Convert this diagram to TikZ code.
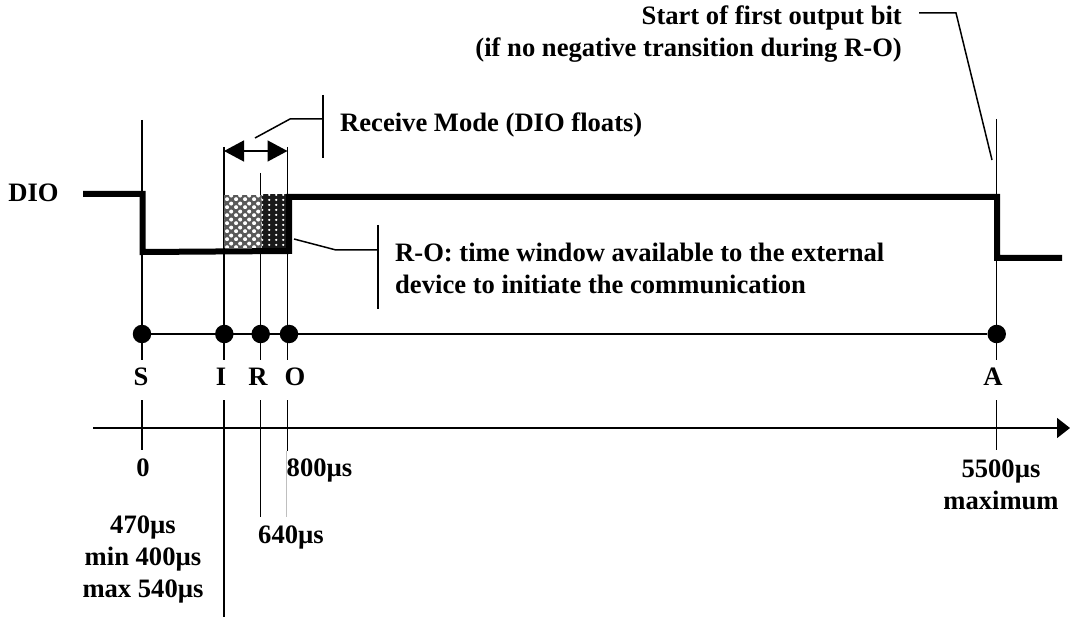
\documentclass[tikz,border=0pt]{standalone}
\usepackage{fontspec}
\setmainfont{Liberation Serif}
\usepackage{tikz}
\usetikzlibrary{arrows.meta, patterns, calc}
\pgfdeclarepatternformonly{coarse blobs}{\pgfqpoint{0pt}{0pt}}{\pgfqpoint{9pt}{8pt}}{\pgfqpoint{9pt}{8pt}}{
    \pgfpathcircle{\pgfqpoint{2.25pt}{2pt}}{2.2pt}
    \pgfpathcircle{\pgfqpoint{6.75pt}{6pt}}{2.2pt}
    \pgfusepath{fill}
}
\pgfdeclarepatternformonly{fine blobs}{\pgfqpoint{0pt}{0pt}}{\pgfqpoint{7pt}{5pt}}{\pgfqpoint{7pt}{5pt}}{
    \pgfpathcircle{\pgfqpoint{3.5pt}{2.5pt}}{1.4pt}
    \pgfusepath{fill}
}
\tikzset{
    lbl/.style={inner sep=0pt, font=\fontsize{26.6}{32}\selectfont\bfseries, align=center},
    lbll/.style={lbl, align=left, anchor=west},
    dot/.style={circle, fill=black, inner sep=0pt, minimum size=18.5pt},
    thin line/.style={line width=1.5pt},
    signal/.style={line width=6pt, line cap=butt, line join=miter},
}

\begin{document}
\begin{tikzpicture}[x=1pt, y=-1pt]
    \useasboundingbox (0,0) rectangle (1070,617);
    % vertical marks
    \coordinate (Stop) at (142,120);
    \coordinate (Itop) at (224,147);
    \coordinate (Rtop) at (260.5,173);
    \coordinate (Otop) at (287.5,147);
    \coordinate (Atop) at (996.5,119);
    \node[dot] (S) at (142,334) {};
    \node[dot] (I) at (224.3,334) {};
    \node[dot] (R) at (260.7,334) {};
    \node[dot] (O) at (289,334) {};
    \node[dot] (A) at (996.7,334) {};
    \draw[thin line] (S) -- (A);
    \coordinate (Sa) at (142,360);
    \coordinate (Ia) at (224,360);
    \coordinate (Ra) at (260.5,360);
    \coordinate (Oa) at (287.5,360);
    \coordinate (Aa) at (996.5,360);
    \foreach \p in {S,I,R,O,A} \draw[thin line] (\p top) -- (\p a);
    % window shading
    \fill[black!65] (224,195) rectangle (261.5,248);
    \fill[pattern=coarse blobs, pattern color=white] (224,195) rectangle (261.5,248);
    \fill[black!90] (261.5,194) rectangle (286,248);
    \fill[pattern=fine blobs, pattern color=white] (261.5,195) rectangle (285,247);
    % time axis
    \coordinate (T0) at (93,428);
    \coordinate (T1) at (1070,428);
    \draw[thin line, -{Triangle[length=13pt,width=20pt]}] (T0) -- (T1);
    \coordinate (Sb) at (142,400);
    \coordinate (Ib) at (224,400);
    \coordinate (Rb) at (260.5,400);
    \coordinate (Ob) at (287.5,400);
    \coordinate (Ab) at (996.5,400);
    \coordinate (Sc) at (142,450);
    \coordinate (Ic) at (224,617);
    \coordinate (Rc) at (260.5,517);
    \coordinate (Oc) at (287.5,451);
    \coordinate (Ac) at (996.5,450);
    \foreach \p in {S,I,R,O,A} \draw[thin line] (\p b) -- (\p c);
    \coordinate (Oe) at (286.7,451);
    \coordinate (Od) at (286.7,517);
    \draw[black!25, line width=0.8pt] (Oe) -- (Od);
    % DIO signal
    \coordinate (D0) at (83,194);
    \coordinate (D1) at (142.7,194);
    \coordinate (D2) at (142.7,252);
    \coordinate (D3) at (289,251);
    \coordinate (D4) at (289,197);
    \coordinate (D5) at (997,197);
    \coordinate (D6) at (997,258);
    \coordinate (D7) at (1062,258);
    \draw[signal] (D0) -- (D1) -- (D2) -- (D3) -- (D4) -- (D5) -- (D6) -- (D7);
    % receive mode
    \coordinate (Ma) at (224,151);
    \coordinate (Mb) at (287.5,151);
    \draw[thin line, {Triangle[length=20pt,width=21pt]}-{Triangle[length=20pt,width=21pt]}] (Ma) -- (Mb);
    \coordinate (Ra0) at (323,95);
    \coordinate (Ra1) at (323,158);
    \coordinate (Rl0) at (255,138);
    \coordinate (Rl1) at (290,119);
    \coordinate (Rl2) at (323,119);
    \draw[thin line] (Ra0) -- (Ra1);
    \draw[thin line] (Rl0) -- (Rl1) -- (Rl2);
    \node[lbll] (recv) at (340,124.5) {Receive Mode (DIO floats)};
    % R-O window
    \coordinate (Wa0) at (378,225);
    \coordinate (Wa1) at (378,309);
    \coordinate (Wl0) at (294,239);
    \coordinate (Wl1) at (336,250);
    \coordinate (Wl2) at (378,250);
    \draw[thin line] (Wa0) -- (Wa1);
    \draw[thin line] (Wl0) -- (Wl1) -- (Wl2);
    \node[lbll] (window) at (395,268.5) {R-O: time window available to the external\\device to initiate the communication};
    % first output bit
    \coordinate (Bl0) at (919,13);
    \coordinate (Bl1) at (956,13);
    \coordinate (Bl2) at (992,160);
    \draw[thin line] (Bl0) -- (Bl1) -- (Bl2);
    \node[lbl, align=right, anchor=east] (start) at (902,34) {Start of first output bit\\(if no negative transition during R-O)};
    % labels
    \node[lbl] (dio) at (33.5,193) {DIO};
    \node[lbl] (Sl) at (141,377) {S};
    \node[lbl] (Il) at (221,377) {I};
    \node[lbl] (Rl) at (258,377) {R};
    \node[lbl] (Ol) at (295,377) {O};
    \node[lbl] (Al) at (993,377) {A};
    \node[lbl] (t0) at (143,468) {0};
    \node[lbl] (t800) at (319.5,470.5) {800µs};
    \node[lbl] (t470) at (143,559) {470µs\\min 400µs\\max 540µs};
    \node[lbl] (t640) at (291,537.5) {640µs};
    \node[lbl] (t5500) at (1001,484.5) {5500µs\\maximum};
\end{tikzpicture}
\end{document}
